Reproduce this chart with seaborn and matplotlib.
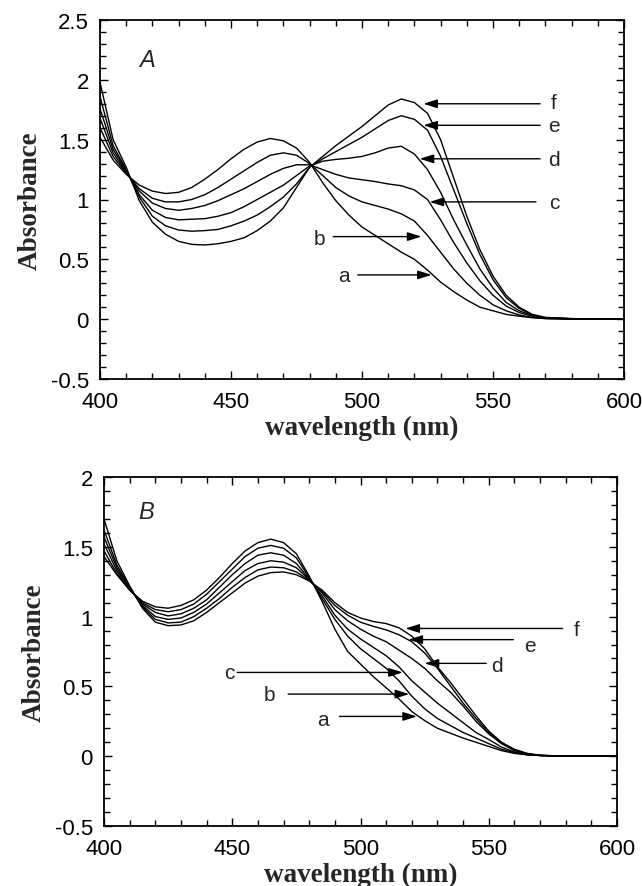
import numpy as np
import pandas as pd
import matplotlib
matplotlib.use('Agg')
import matplotlib.pyplot as plt
from matplotlib.ticker import MultipleLocator, FuncFormatter
import seaborn as sns

wl = [400, 405, 410, 415, 420, 425, 430, 435, 440, 445, 450, 455, 460, 465, 470, 475, 480,
      485, 490, 495, 500, 505, 510, 515, 520, 525, 530, 535, 540, 545, 550, 555, 560, 565, 570,
      580, 590, 600]

# panel A
A_a = [1.52, 1.33, 1.21, 1.12, 1.07, 1.05, 1.06, 1.10, 1.17, 1.25, 1.34, 1.42, 1.48, 1.51, 1.49, 1.43, 1.31,
       1.14, 0.99, 0.87, 0.77, 0.70, 0.63, 0.56, 0.50, 0.41, 0.31, 0.23, 0.16, 0.10, 0.07, 0.04, 0.025, 0.012, 0.005,
       0.0, 0.0, 0.0]
A_b = [1.60, 1.36, 1.22, 1.09, 1.01, 0.98, 0.98, 1.00, 1.04, 1.10, 1.17, 1.24, 1.31, 1.37, 1.39, 1.37, 1.30,
       1.20, 1.10, 1.03, 0.98, 0.95, 0.92, 0.88, 0.82, 0.70, 0.56, 0.42, 0.30, 0.20, 0.12, 0.07, 0.035, 0.015, 0.005,
       0.0, 0.0, 0.0]
A_c = [1.68, 1.39, 1.23, 1.07, 0.97, 0.925, 0.91, 0.925, 0.95, 0.99, 1.04, 1.09, 1.15, 1.21, 1.26, 1.29, 1.29,
       1.25, 1.21, 1.18, 1.165, 1.15, 1.13, 1.115, 1.08, 1.00, 0.83, 0.64, 0.47, 0.32, 0.20, 0.11, 0.055, 0.025, 0.01,
       0.003, 0.0, 0.0]
A_d = [1.76, 1.42, 1.24, 1.04, 0.91, 0.85, 0.83, 0.835, 0.84, 0.86, 0.89, 0.94, 1.00, 1.06, 1.12, 1.20, 1.28,
       1.32, 1.335, 1.345, 1.36, 1.39, 1.43, 1.445, 1.38, 1.25, 1.06, 0.83, 0.62, 0.42, 0.26, 0.14, 0.07, 0.03, 0.01,
       0.003, 0.0, 0.0]
A_e = [1.86, 1.45, 1.25, 1.02, 0.86, 0.78, 0.745, 0.735, 0.74, 0.75, 0.78, 0.82, 0.87, 0.94, 1.02, 1.13, 1.27,
       1.34, 1.40, 1.46, 1.52, 1.59, 1.66, 1.70, 1.67, 1.58, 1.36, 1.08, 0.80, 0.54, 0.33, 0.18, 0.09, 0.035, 0.012,
       0.004, 0.0, 0.0]
A_f = [1.98, 1.50, 1.27, 0.99, 0.81, 0.71, 0.65, 0.625, 0.62, 0.63, 0.65, 0.68, 0.74, 0.82, 0.93, 1.10, 1.27,
       1.36, 1.45, 1.53, 1.61, 1.70, 1.79, 1.84, 1.81, 1.72, 1.50, 1.18, 0.86, 0.58, 0.36, 0.20, 0.10, 0.04, 0.015,
       0.005, 0.0, 0.0]

# panel B
B_a = [1.43, 1.30, 1.19, 1.11, 1.07, 1.06, 1.08, 1.12, 1.19, 1.28, 1.38, 1.47, 1.53, 1.555, 1.53, 1.45, 1.29,
       1.11, 0.91, 0.75, 0.66, 0.57, 0.49, 0.41, 0.32, 0.255, 0.20, 0.165, 0.13, 0.10, 0.07, 0.04, 0.02, 0.01, 0.005,
       0.0, 0.0, 0.0]
B_b = [1.47, 1.31, 1.19, 1.10, 1.05, 1.035, 1.05, 1.09, 1.16, 1.25, 1.34, 1.43, 1.49, 1.51, 1.49, 1.42, 1.28,
       1.13, 0.98, 0.86, 0.77, 0.70, 0.63, 0.54, 0.43, 0.34, 0.27, 0.22, 0.17, 0.13, 0.09, 0.05, 0.025, 0.01, 0.005,
       0.0, 0.0, 0.0]
B_c = [1.52, 1.33, 1.195, 1.09, 1.03, 1.005, 1.02, 1.06, 1.12, 1.21, 1.30, 1.38, 1.44, 1.457, 1.44, 1.38, 1.27,
       1.15, 1.01, 0.91, 0.84, 0.78, 0.72, 0.64, 0.54, 0.46, 0.38, 0.31, 0.24, 0.17, 0.12, 0.065, 0.03, 0.012, 0.005,
       0.0, 0.0, 0.0]
B_d = [1.57, 1.35, 1.20, 1.08, 1.00, 0.98, 0.99, 1.03, 1.09, 1.17, 1.25, 1.33, 1.38, 1.40, 1.39, 1.35, 1.265,
       1.17, 1.05, 0.97, 0.91, 0.86, 0.82, 0.76, 0.70, 0.63, 0.54, 0.46, 0.36, 0.25, 0.16, 0.09, 0.04, 0.015, 0.005,
       0.0, 0.0, 0.0]
B_e = [1.62, 1.37, 1.21, 1.07, 0.98, 0.955, 0.96, 1.00, 1.06, 1.13, 1.21, 1.28, 1.335, 1.355, 1.35, 1.32, 1.26,
       1.18, 1.08, 1.01, 0.96, 0.93, 0.905, 0.87, 0.82, 0.74, 0.63, 0.505, 0.38, 0.27, 0.17, 0.095, 0.045, 0.018, 0.006,
       0.0, 0.0, 0.0]
B_f = [1.70, 1.40, 1.22, 1.06, 0.96, 0.935, 0.94, 0.97, 1.03, 1.10, 1.17, 1.24, 1.29, 1.315, 1.32, 1.30, 1.255,
       1.19, 1.10, 1.03, 0.99, 0.965, 0.95, 0.92, 0.86, 0.77, 0.64, 0.53, 0.41, 0.29, 0.18, 0.10, 0.05, 0.02, 0.007,
       0.0, 0.0, 0.0]

curve_names = ['a', 'b', 'c', 'd', 'e', 'f']

# arrow annotations: label, arrow start x, arrow tip x, arrow y, label x, label y
arrows_A = [('f', 568, 523.4, 1.80, 573, 1.81),
            ('e', 568, 523.4, 1.62, 573.4, 1.615),
            ('d', 568, 522, 1.34, 573.4, 1.337),
            ('c', 566.4, 525.8, 0.98, 573.4, 0.975),
            ('b', 489, 522.7, 0.69, 483.6, 0.67),
            ('a', 498.4, 526.6, 0.37, 493, 0.363)]
arrows_B = [('f', 578.8, 517.5, 0.915, 584.4, 0.905),
            ('e', 559.6, 518.7, 0.835, 566, 0.79),
            ('d', 549, 525, 0.665, 553, 0.653),
            ('c', 451.9, 516.5, 0.60, 448.7, 0.60),
            ('b', 471.8, 519, 0.445, 464.6, 0.445),
            ('a', 491.8, 522, 0.285, 485.4, 0.265)]


def long_df(curves):
    parts = []
    for name, vals in zip(curve_names, curves):
        parts.append(pd.DataFrame({'wavelength': wl, 'absorbance': vals, 'curve': name}))
    return pd.concat(parts, ignore_index=True)


dfA = long_df([A_a, A_b, A_c, A_d, A_e, A_f])
dfB = long_df([B_a, B_b, B_c, B_d, B_e, B_f])

sns.set_theme(style='ticks')
plt.rcParams['font.family'] = ['Liberation Sans', 'DejaVu Sans']
plt.rcParams['axes.unicode_minus'] = False
plt.rcParams['axes.edgecolor'] = 'black'
plt.rcParams['xtick.color'] = 'black'
plt.rcParams['ytick.color'] = 'black'

fig = plt.figure(figsize=(6.42, 8.87), dpi=100)
axA = fig.add_axes([100 / 642, 1 - 380 / 887, 524 / 642, 359 / 887])
axB = fig.add_axes([104 / 642, 1 - 827 / 887, 513 / 642, 349 / 887])

fmt = FuncFormatter(lambda v, p: '%g' % round(v, 2))
label_font = dict(fontfamily='Liberation Serif', fontweight='bold', fontsize=19.5)

for ax, df, ylo, yhi, arrows, letter, lpos in [
        (axA, dfA, -0.5, 2.5, arrows_A, 'A', (418, 2.17)),
        (axB, dfB, -0.5, 2.0, arrows_B, 'B', (416.4, 1.75))]:
    sns.lineplot(data=df, x='wavelength', y='absorbance', units='curve', estimator=None,
                 color='black', linewidth=1.0, sort=False, ax=ax, legend=False)
    ax.set_xlim(400, 600)
    ax.set_ylim(ylo, yhi)
    ax.xaxis.set_major_locator(MultipleLocator(50))
    ax.xaxis.set_minor_locator(MultipleLocator(10))
    ax.yaxis.set_major_locator(MultipleLocator(0.5))
    ax.yaxis.set_minor_locator(MultipleLocator(0.1))
    ax.yaxis.set_major_formatter(fmt)
    ax.tick_params(which='both', direction='in', top=True, right=True, width=1.0)
    ax.tick_params(which='major', length=6, labelsize=16)
    ax.tick_params(which='minor', length=4)
    ax.tick_params(axis='x', pad=9)
    ax.tick_params(axis='y', pad=8)
    for s in ax.spines.values():
        s.set_linewidth(1.3)
    ax.set_xlabel('wavelength (nm)', labelpad=2, **label_font)
    ax.set_ylabel('Absorbance', labelpad=6, **label_font)
    ax.text(lpos[0], lpos[1], letter, fontsize=17, fontstyle='italic', ha='center', va='center')
    for lab, x0, x1, y, tx, ty in arrows:
        ax.annotate('', xy=(x1, y), xytext=(x0, y),
                    arrowprops=dict(arrowstyle='-|>,head_length=0.7,head_width=0.22',
                                    color='black', lw=1.0, shrinkA=0, shrinkB=0))
        ax.text(tx, ty, lab, fontsize=15, ha='center', va='center')

fig.savefig('out.png', dpi=100)
